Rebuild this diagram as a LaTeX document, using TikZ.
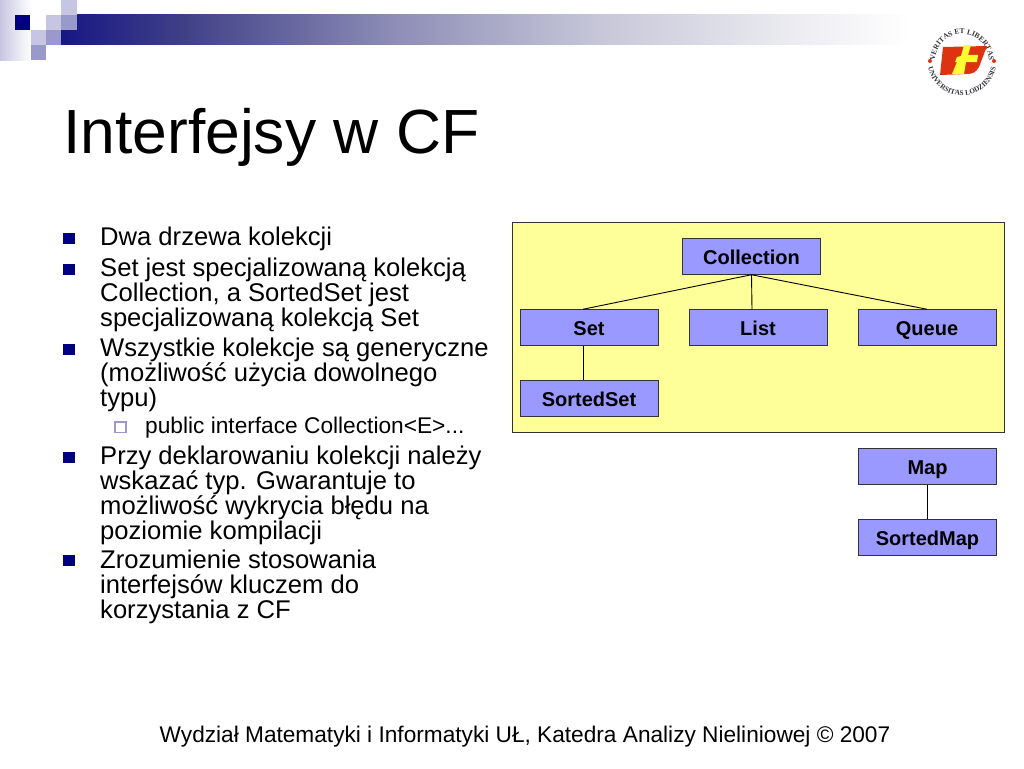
\documentclass[tikz,border=0pt]{standalone}
\usepackage{fontspec}
\setmainfont{Liberation Sans}
\newfontfamily\logofont{Liberation Serif}
\usetikzlibrary{decorations.text}
\definecolor{navy}{HTML}{000080}
\definecolor{midsq}{HTML}{9999CC}
\definecolor{lightsq}{HTML}{C6C6E2}
\definecolor{boxblue}{HTML}{9999FF}
\definecolor{panel}{HTML}{FFFF99}
\definecolor{lineg}{HTML}{333333}
\definecolor{logored}{HTML}{DD3311}
\definecolor{logoyel}{HTML}{FFFF33}
\definecolor{logoink}{HTML}{33303A}
\pgfdeclarehorizontalshading{bandshade}{100bp}{
  rgb(0bp)=(0.09,0.09,0.52);
  rgb(25bp)=(0.09,0.09,0.52);
  rgb(31.35bp)=(0.25,0.25,0.53);
  rgb(42.5bp)=(0.56,0.56,0.72);
  rgb(53bp)=(0.78,0.78,0.85);
  rgb(63.5bp)=(0.93,0.93,0.95);
  rgb(69bp)=(1,1,1);
  rgb(100bp)=(1,1,1)}
\tikzset{
  body/.style={anchor=base west,inner sep=0pt,font=\fontsize{25.6}{25.6}\selectfont,text=black},
  subbody/.style={anchor=base west,inner sep=0pt,font=\fontsize{22.7}{22.7}\selectfont,text=black},
  bullet/.style={fill=navy,draw=none},
  subbullet/.style={draw=midsq,line width=1.3pt,fill=white},
  cbox/.style={draw=lineg,line width=1pt,fill=boxblue,minimum width=138pt,minimum height=35.5pt,inner sep=0pt,text height=15pt,text depth=0pt,font=\fontsize{20}{20}\selectfont\bfseries,text=black},
  link/.style={draw=black,line width=0.9pt},
}
\begin{document}
\begin{tikzpicture}[x=1pt,y=-1pt]
\useasboundingbox (0,0) rectangle (1024,768);
\fill[white] (0,0) rectangle (1024,768);
% header decoration
\shade[left color=lightsq,right color=white] (0,0) rectangle (31,60);
\fill[white] (31,0) rectangle (61,15);
\shade[shading=bandshade] (61,15) rectangle (1024,45);
\fill[white] (15,15) rectangle (46,30);
\fill[navy] (15,15) rectangle (30,30);
\fill[lightsq] (46,15) rectangle (61,30);
\fill[lightsq] (61,0) rectangle (77,15);
\fill[midsq] (61,15) rectangle (77,30);
\fill[lightsq] (31,30) rectangle (46,45);
\fill[midsq] (46,30) rectangle (61,45);
\fill[midsq] (31,45) rectangle (46,60);
% logo
\fill[logored] (943,47) -- (987,46) -- (979,67) .. controls (976,72) and (973,74) .. (967,74) -- (940,75) -- cycle;
\fill[logoyel] (964,45) -- (971,45) -- (968,55) -- (978,55) -- (977,62) -- (966,62) -- (964,74) -- (952,74) -- (957,62) -- (955,62) -- (957,57) -- (961,56) -- cycle;
\fill[logored] (930,61) circle (2);
\fill[logored] (994,61) circle (2);
\begin{scope}[shift={(962,61)},y=1pt]
\path[decorate,decoration={text along path,text align=center,text={|\logofont\bfseries\fontsize{7.4}{7.4}\selectfont\color{logoink}|VERITAS ET LIBERTAS}}] (186:27) arc (186:-6:27);
\path[decorate,decoration={text along path,text align=center,text={|\logofont\bfseries\fontsize{7.2}{7.2}\selectfont\color{logoink}|UNIVERSITAS LODZIENSIS}}] (184:34.5) arc (184:356:34.5);
\end{scope}
% title
\node[anchor=base west,inner sep=0pt,font=\fontsize{62.4}{62.4}\selectfont] (title) at (63,153) {Interfejsy w CF};
% bullets
\foreach \yy in {233,264,344,452,555} \fill[bullet] (63,\yy) rectangle (75,\yy+11);
\draw[subbullet] (115,422) rectangle (126,432.5);
% body text
\node[body] (t1) at (100,245) {Dwa drzewa kolekcji};
\node[body] (t2) at (100,276) {Set jest specjalizowaną kolekcją};
\node[body] (t3) at (100,301) {Collection, a SortedSet jest};
\node[body] (t4) at (100,326) {specjalizowaną kolekcją Set};
\node[body] (t5) at (100,356) {Wszystkie kolekcje są generyczne};
\node[body] (t6) at (100,381) {(możliwość użycia dowolnego};
\node[body] (t7) at (100,406) {typu)};
\node[subbody] (t8) at (145,433) {public interface Collection<E>...};
\node[body] (t9) at (100,464) {Przy deklarowaniu kolekcji należy};
\node[body] (t10) at (100,489) {wskazać typ. Gwarantuje to};
\node[body] (t11) at (100,514) {możliwość wykrycia błędu na};
\node[body] (t12) at (100,539) {poziomie kompilacji};
\node[body] (t13) at (100,568) {Zrozumienie stosowania};
\node[body] (t14) at (100,593) {interfejsów kluczem do};
\node[body] (t15) at (100,618) {korzystania z CF};
% panel
\filldraw[fill=panel,draw=lineg,line width=1pt] (512,222.5) rectangle (1004,432);
% boxes
\node[cbox] (coll) at (751.5,256.5) {Collection};
\node[cbox] (set) at (589,327.5) {Set};
\node[cbox] (list) at (758,327.5) {List};
\node[cbox] (queue) at (927,327.5) {Queue};
\node[cbox] (sset) at (589,398.5) {SortedSet};
\node[cbox] (map) at (927.5,466.5) {Map};
\node[cbox] (smap) at (927.5,537.5) {SortedMap};
\coordinate (settop) at ([xshift=-6pt]set.north);
\coordinate (setbot) at ([xshift=-6pt]set.south);
\coordinate (ssettop) at ([xshift=-6pt]sset.north);
\coordinate (listtop) at ([xshift=-6pt]list.north);
\draw[link] (coll.south) -- (settop);
\draw[link] (coll.south) -- (listtop);
\draw[link] (coll.south) -- (queue.north);
\draw[link] (setbot) -- (ssettop);
\draw[link] (map.south) -- (smap.north);
% footer
\node[anchor=base,inner sep=0pt,font=\fontsize{22.66}{22.66}\selectfont] (foot) at (525,742) {Wydział Matematyki i Informatyki UŁ, Katedra Analizy Nieliniowej © 2007};
\end{tikzpicture}
\end{document}
